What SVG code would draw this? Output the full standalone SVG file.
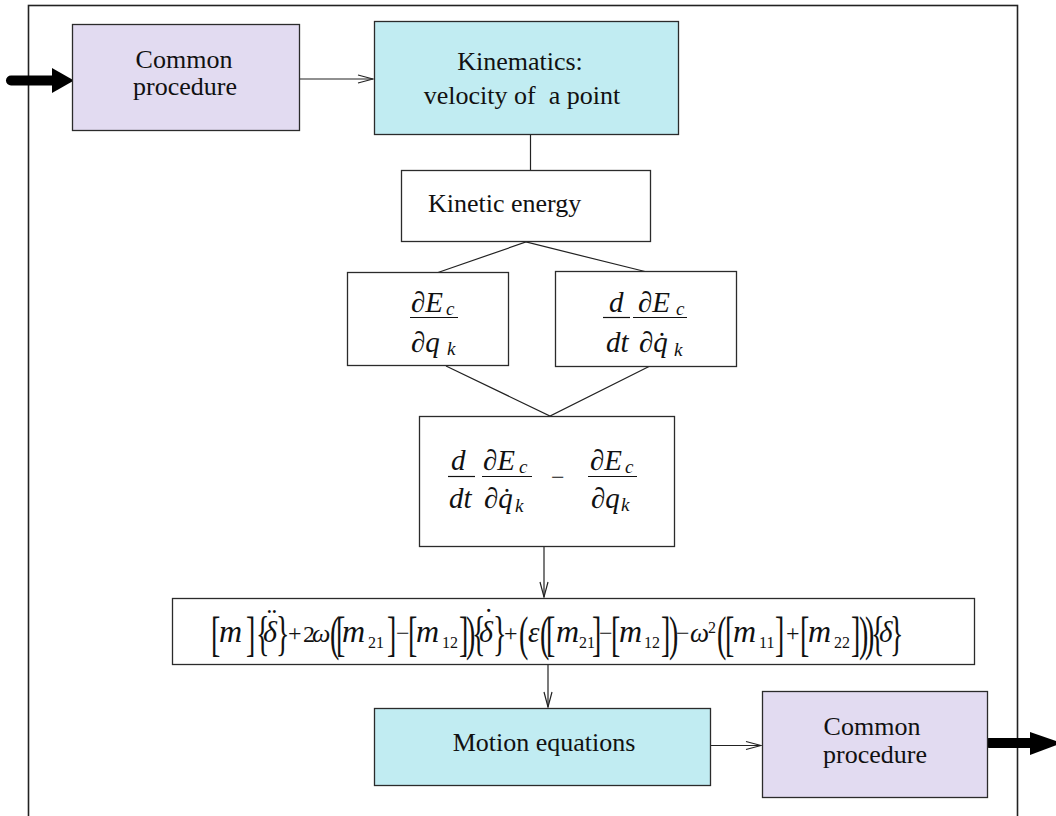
<svg xmlns="http://www.w3.org/2000/svg" width="1056" height="816" viewBox="0 0 1056 816">
  <style>
    .box { stroke: #2b2b2b; stroke-width: 1.3; }
    .plain { fill: #ffffff; }
    .lav { fill: #e2dbf1; }
    .cyan { fill: #c1ecf2; }
    .lbl { font-family: "Liberation Serif", "Times New Roman", serif; font-size: 26px; fill: #111; }
    .mi { font-family: "Liberation Serif", "Times New Roman", serif; font-style: italic; font-size: 29px; fill: #111; }
    .eq { font-family: "Liberation Serif", "Times New Roman", serif; font-style: italic; font-size: 32px; fill: #111; }
    .sub { font-family: "Liberation Serif", "Times New Roman", serif; font-style: italic; font-size: 19px; fill: #111; }
    .num { font-family: "Liberation Serif", "Times New Roman", serif; font-size: 16px; fill: #111; }
    .op { font-family: "Liberation Serif", "Times New Roman", serif; font-size: 24px; fill: #111; }
    .delim { font-family: "Liberation Serif", "Times New Roman", serif; font-size: 28px; fill: #111; }
    .bar { stroke: #111; stroke-width: 1.2; }
    .conn { stroke: #222; stroke-width: 1.2; fill: none; }
    .thick { stroke: #000; stroke-width: 10; stroke-linecap: round; fill: none; }
  </style>
  <defs>
    <marker id="open" markerUnits="userSpaceOnUse" markerWidth="18" markerHeight="12" refX="16" refY="6" orient="auto">
      <path d="M1,2 L16,6 L1,10" fill="none" stroke="#222" stroke-width="1.2"/>
    </marker>
  </defs>

  <!-- outer frame -->
  <rect x="28.5" y="5.5" width="989" height="830" fill="none" stroke="#222" stroke-width="1.6"/>

  <!-- connectors -->
  <g id="connectors">
    <path class="thick" d="M11,80.5 L55,80.5"/>
    <polygon points="52,68 74,80.5 52,93" fill="#000"/>
    <line class="conn" x1="300" y1="79" x2="373" y2="79" marker-end="url(#open)"/>
    <line class="conn" x1="530.5" y1="134" x2="530.5" y2="170"/>
    <polyline class="conn" points="438,272.5 526,242 645,271.5"/>
    <polyline class="conn" points="446,366 550,416 650,366"/>
    <line class="conn" x1="544" y1="547" x2="544" y2="597" marker-end="url(#open)"/>
    <line class="conn" x1="548" y1="665" x2="548" y2="707" marker-end="url(#open)"/>
    <line class="conn" x1="711" y1="745.5" x2="761" y2="745.5" marker-end="url(#open)"/>
    <path class="thick" d="M989,743 L1034,743" stroke-linecap="butt"/>
    <polygon points="1030,732 1062,743 1030,755" fill="#000"/>
  </g>

  <!-- entry procedure -->
  <g id="common-procedure-in">
    <rect class="box lav" x="72.5" y="24.5" width="227" height="106"/>
    <text class="lbl" x="184" y="68" text-anchor="middle">Common</text>
    <text class="lbl" x="185" y="95" text-anchor="middle">procedure</text>
  </g>

  <!-- kinematics -->
  <g id="kinematics">
    <rect class="box cyan" x="374.5" y="21.5" width="304" height="113"/>
    <text class="lbl" x="520" y="70" text-anchor="middle">Kinematics:</text>
    <text class="lbl" x="522" y="104" text-anchor="middle" xml:space="preserve">velocity of  a point</text>
  </g>

  <!-- kinetic energy -->
  <g id="kinetic-energy">
    <rect class="box plain" x="401.5" y="170.5" width="249" height="71"/>
    <text class="lbl" x="428" y="212">Kinetic energy</text>
  </g>

  <!-- dEc/dqk -->
  <g id="partial-q">
    <rect class="box plain" x="347.5" y="272.5" width="161" height="93"/>
    <text class="mi" x="411" y="312">∂E</text>
    <text class="sub" x="446" y="315">c</text>
    <line class="bar" x1="410" y1="317.5" x2="458" y2="317.5"/>
    <text class="mi" x="411" y="352">∂q</text>
    <text class="sub" x="447" y="355">k</text>
  </g>

  <!-- d/dt dEc/dq̇k -->
  <g id="time-derivative">
    <rect class="box plain" x="555.5" y="271.5" width="181" height="95"/>
    <text class="mi" x="609" y="312">d</text>
    <line class="bar" x1="603" y1="317.5" x2="630" y2="317.5"/>
    <text class="mi" x="606" y="352">dt</text>
    <text class="mi" x="638" y="312">∂E</text>
    <text class="sub" x="676" y="315">c</text>
    <line class="bar" x1="633" y1="317.5" x2="687" y2="317.5"/>
    <text class="mi" x="639" y="352">∂q̇</text>
    <text class="sub" x="674" y="356">k</text>
  </g>

  <!-- Lagrange difference -->
  <g id="lagrange-term">
    <rect class="box plain" x="419.5" y="416.5" width="255" height="130"/>
    <text class="mi" x="451" y="470">d</text>
    <line class="bar" x1="448" y1="476.5" x2="475" y2="476.5"/>
    <text class="mi" x="449" y="508">dt</text>
    <text class="mi" x="483" y="470">∂E</text>
    <text class="sub" x="519" y="473">c</text>
    <line class="bar" x1="482" y1="476.5" x2="532" y2="476.5"/>
    <text class="mi" x="484" y="508">∂q̇</text>
    <text class="sub" x="515" y="512">k</text>
    <text class="op" x="551" y="485" font-size="20">−</text>
    <text class="mi" x="590" y="470">∂E</text>
    <text class="sub" x="625" y="473">c</text>
    <line class="bar" x1="588" y1="476.5" x2="637" y2="476.5"/>
    <text class="mi" x="591" y="508">∂q</text>
    <text class="sub" x="621" y="511">k</text>
  </g>

  <!-- equation of motion, matrix form -->
  <g id="matrix-equation">
    <rect class="box plain" x="172.5" y="598.5" width="802" height="66"/>
    <!-- stretched delimiters -->
    <g transform="translate(0,650) scale(1,1.75)">
      <text class="delim" y="0"><tspan x="211">[</tspan><tspan x="246">]</tspan><tspan x="256">{</tspan><tspan x="276">}</tspan><tspan x="330">(</tspan><tspan x="336">[</tspan><tspan x="387">]</tspan><tspan x="408">[</tspan><tspan x="459">]</tspan><tspan x="466">)</tspan><tspan x="472">{</tspan><tspan x="493">}</tspan><tspan x="519">(</tspan><tspan x="540">(</tspan><tspan x="546">[</tspan><tspan x="592">]</tspan><tspan x="611">[</tspan><tspan x="661">]</tspan><tspan x="669">)</tspan><tspan x="717">(</tspan><tspan x="725">[</tspan><tspan x="775">]</tspan><tspan x="800">[</tspan><tspan x="851">]</tspan><tspan x="859">)</tspan><tspan x="865">)</tspan><tspan x="871">{</tspan><tspan x="890">}</tspan></text>
    </g>
    <text class="eq" y="642"><tspan x="219">m</tspan><tspan x="263" font-size="30">δ</tspan><tspan x="312" font-size="26">ω</tspan><tspan x="342">m</tspan><tspan x="416">m</tspan><tspan x="479" font-size="30">δ</tspan><tspan x="528" font-size="29">ε</tspan><tspan x="556">m</tspan><tspan x="619">m</tspan><tspan x="690" font-size="27">ω</tspan><tspan x="733">m</tspan><tspan x="808">m</tspan><tspan x="879" font-size="29">δ</tspan></text>
    <!-- time-derivative dots over delta -->
    <text class="mi" y="629" font-size="22"><tspan x="265">¨</tspan><tspan x="482">˙</tspan></text>
    <text class="num" y="648"><tspan x="368">21</tspan><tspan x="442">12</tspan><tspan x="579">21</tspan><tspan x="644">12</tspan><tspan x="759">11</tspan><tspan x="834">22</tspan></text>
    <text class="num" y="633" font-size="14"><tspan x="708">2</tspan></text>
    <text class="op" y="641"><tspan x="288">+</tspan><tspan x="396">−</tspan><tspan x="504">+</tspan><tspan x="599">−</tspan><tspan x="676">−</tspan><tspan x="786">+</tspan></text>
    <text class="op" y="642" font-size="24"><tspan x="303">2</tspan></text>
  </g>

  <!-- motion equations -->
  <g id="motion-equations">
    <rect class="box cyan" x="374.5" y="708.5" width="336" height="77"/>
    <text class="lbl" x="544" y="751" text-anchor="middle">Motion equations</text>
  </g>

  <!-- exit procedure -->
  <g id="common-procedure-out">
    <rect class="box lav" x="762.5" y="691.5" width="225" height="106"/>
    <text class="lbl" x="872" y="735" text-anchor="middle">Common</text>
    <text class="lbl" x="875" y="763" text-anchor="middle">procedure</text>
  </g>
</svg>
